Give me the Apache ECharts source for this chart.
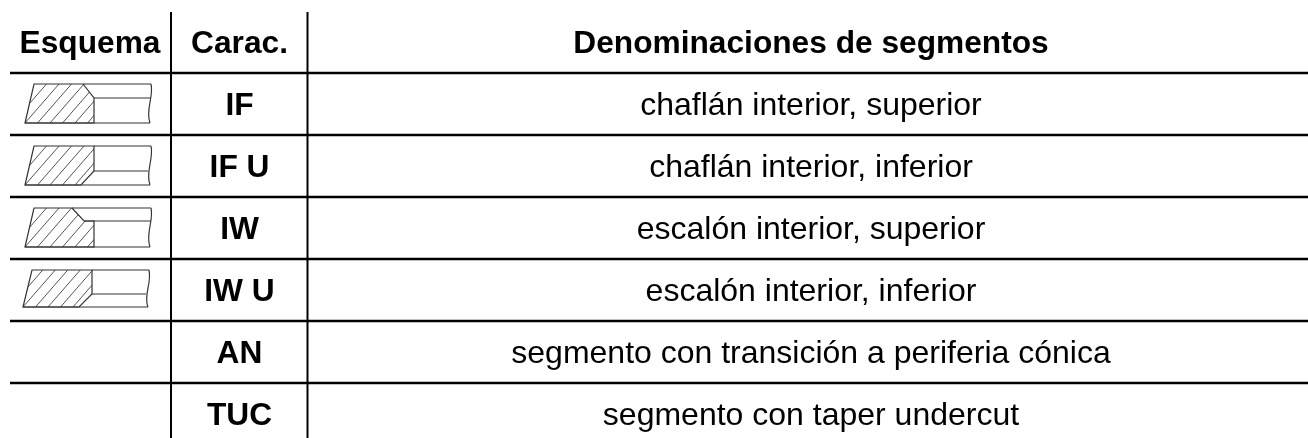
<!DOCTYPE html>
<html>
<head>
<meta charset="utf-8">
<style>html,body{margin:0;padding:0;background:#fff;overflow:hidden}#main{width:1308px;height:438px}</style>
<script src="https://cdn.jsdelivr.net/npm/echarts@6/dist/echarts.min.js"></script>
</head>
<body>
<div id="main"></div>
<script>
var headers = ['Esquema', 'Carac.', 'Denominaciones de segmentos']
var codes = ['IF', 'IF U', 'IW', 'IW U', 'AN', 'TUC']
var names = [
  'chaflán interior, superior',
  'chaflán interior, inferior',
  'escalón interior, superior',
  'escalón interior, inferior',
  'segmento con transición a periferia cónica',
  'segmento con taper undercut',
]
// ring section drawn in row 0..3, null = empty cell
var sketches = ['chamferTop', 'chamferBottom', 'stepTop', 'stepBottom', null, null]

var rows = ['header'].concat(codes)
var columnEdges = [171, 307.5]
var columnCenters = [90, 239.5, 811]

// outline of each ring section, in px from the top left corner of the sketch
var shapes = {
  chamferTop: {
    hatch: [[58, 0], [69, 14], [69, 39], [0, 39], [9, 0]],
    lines: [[[58, 0], [126, 0]], [[69, 14], [126, 14]], [[0, 39], [125, 39]]],
  },
  chamferBottom: {
    hatch: [[69, 0], [69, 25], [56, 39], [0, 39], [9, 0]],
    lines: [[[69, 0], [126, 0]], [[69, 25], [123, 25]], [[0, 39], [125, 39]]],
  },
  stepTop: {
    hatch: [[47, 0], [59, 13], [69, 13], [69, 39], [0, 39], [9, 0]],
    lines: [[[47, 0], [126, 0]], [[59, 13], [126, 13]], [[0, 39], [125, 39]]],
  },
  stepBottom: {
    hatch: [[69, 0], [69, 24], [56, 37], [0, 37], [9, 0]],
    lines: [[[69, 0], [126, 0]], [[69, 24], [123, 24]], [[0, 37], [125, 37]]],
  },
}

function ringSketch(shape, left, top) {
  var shift = function (p) {
    return [left + p[0], top + p[1]]
  }
  var bottom = shape.hatch[shape.hatch.length - 2][1]
  var style = { stroke: '#333', lineWidth: 1.2, fill: null }
  var out = []
  // hatch lines, clipped to the section
  var hatch = []
  for (var i = -1; i < 7; i++) {
    var x = 12.5 * i
    hatch.push({
      type: 'line',
      shape: { x1: left + x, y1: top + bottom, x2: left + x + (34 * bottom) / 39, y2: top },
      style: { stroke: '#555', lineWidth: 1 },
    })
  }
  out.push({
    type: 'group',
    children: hatch,
    clipPath: { type: 'polygon', shape: { points: shape.hatch.map(shift) } },
  })
  out.push({ type: 'polygon', shape: { points: shape.hatch.map(shift) }, style: style })
  shape.lines.forEach(function (l) {
    out.push({ type: 'polyline', shape: { points: l.map(shift) }, style: style })
  })
  // right hand break line
  out.push({
    type: 'bezierCurve',
    shape: {
      x1: left + 126, y1: top,
      x2: left + 125, y2: top + bottom,
      cpx1: left + 129, cpy1: top + 13,
      cpx2: left + 120, cpy2: top + 26,
    },
    style: style,
  })
  return out
}

var myChart = echarts.init(document.getElementById('main'), null, { renderer: 'canvas' })
var font = '"Liberation Sans", Arial, sans-serif'

var option = {
  animation: false,
  grid: { left: 10, top: 11, width: 1298, height: 434, outerBoundsMode: 'none' },
  xAxis: { type: 'value', min: 10, max: 1308, show: false },
  yAxis: {
    type: 'category',
    inverse: true,
    data: rows,
    axisLine: { show: false },
    axisTick: { show: false },
    axisLabel: { show: false },
    splitLine: { show: true, showMinLine: false, showMaxLine: false, lineStyle: { color: '#000', width: 2.4 } },
  },
  series: [
    {
      type: 'custom',
      clip: false,
      coordinateSystem: 'cartesian2d',
      data: rows.map(function (r, i) { return [0, i] }),
      renderItem: function (params, api) {
        var i = api.value(1)
        var cy = api.coord([10, i])[1]
        var children = []
        var texts = i === 0 ? headers : ['', codes[i - 1], names[i - 1]]
        texts.forEach(function (t, c) {
          if (!t) return
          var bold = i === 0 || c === 1
          children.push({
            type: 'text',
            style: {
              text: t,
              x: api.coord([columnCenters[c], i])[0],
              y: cy + 2,
              align: 'center',
              verticalAlign: 'middle',
              font: (bold ? 'bold 31.7px ' : '32px ') + font,
              fill: '#000',
            },
          })
        })
        if (i > 0 && sketches[i - 1]) {
          var left = i === 4 ? 23 : 25
          children = children.concat(ringSketch(shapes[sketches[i - 1]], left, cy - 20))
        }
        if (i === 0) {
          columnEdges.forEach(function (x) {
            children.push({
              type: 'line',
              shape: { x1: x, y1: 12, x2: x, y2: 438 },
              style: { stroke: '#000', lineWidth: 2 },
            })
          })
        }
        return { type: 'group', children: children }
      },
    },
  ],
}

myChart.setOption(option)
</script>
</body>
</html>
